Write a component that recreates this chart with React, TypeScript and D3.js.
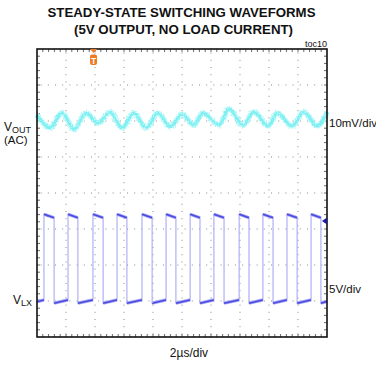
import * as d3 from "d3";

const titleLines = ["STEADY-STATE SWITCHING WAVEFORMS", "(5V OUTPUT, NO LOAD CURRENT)"];

// VOUT (AC coupled) ripple: time in divisions, value in mV
const rippleTime = [0, 0.45, 0.86, 1.28, 1.69, 2.1, 2.52, 2.93, 3.34, 3.76, 4.17, 4.59, 5.0, 5.41, 5.72, 6.28, 6.62, 7.1, 7.48, 7.97, 8.28, 8.79, 9.2, 9.66, 10];
const rippleMv = [1.4, -2.2, 1.9, -2.6, 1.9, -0.9, 2.2, -2.2, 1.9, -2.2, 1.9, -1.9, 1.6, -1.4, 1.9, -1.4, 3.0, -1.5, 2.2, -1.7, 1.9, -1.7, 2.2, -1.7, 2.2];

// VLX switching node: edge times in divisions, levels in volts
const riseTime = [0.24, 1.07, 1.93, 2.76, 3.62, 4.45, 5.28, 6.1, 6.97, 7.79, 8.62, 9.45];
const fallTime = [0.59, 1.41, 2.28, 3.1, 3.97, 4.79, 5.62, 6.45, 7.31, 8.14, 8.97, 9.79];
const highStartV = 12.2;
const highEndV = 11.7;
const lowStartV = -0.15;
const lowEndV = 0.3;

const voutOffsetDiv = 2.03;
const vlxOffsetDiv = -3.03;
const gndMarkerDiv = -0.78;
const triggerDiv = 1.95;

const W = 376;
const H = 365;
const font = "'Liberation Sans', Arial, sans-serif";

export default function App() {
  const x = d3.scaleLinear().domain([0, 10]).range([37, 327]);
  const y = d3.scaleLinear().domain([-4, 4]).range([337, 49]);

  const voutY = (mv: number) => y(voutOffsetDiv + mv / 10);
  const vlxY = (v: number) => y(vlxOffsetDiv + v / 5);

  const ripplePath =
    d3
      .line<number>()
      .x((_, i) => x(rippleTime[i]))
      .y((d) => voutY(d))
      .curve(d3.curveMonotoneX)(rippleMv) ?? "";

  // full switching waveform incl. edges
  const pts: [number, number][] = [[0, lowEndV]];
  riseTime.forEach((r, i) => {
    pts.push([r, lowEndV], [r, highStartV], [fallTime[i], highEndV], [fallTime[i], lowStartV]);
  });
  pts.push([10, 0.1]);
  const lx = d3
    .line<[number, number]>()
    .x((d) => x(d[0]))
    .y((d) => vlxY(d[1]));
  const vlxPath = lx(pts) ?? "";

  // flat (dense) parts of the switching waveform
  const flats: [number, number][][] = [[[0, 0.05], [riseTime[0], lowEndV]]];
  riseTime.forEach((r, i) => {
    const last = i + 1 >= riseTime.length;
    flats.push([[r, highStartV], [fallTime[i], highEndV]]);
    flats.push([[fallTime[i], lowStartV], [last ? 10 : riseTime[i + 1], last ? 0.1 : lowEndV]]);
  });

  const minorX = d3.range(1, 50).map((i) => x(i / 5));
  const minorY = d3.range(1, 40).map((i) => y(-4 + i / 5));
  const gridX = d3.range(1, 10).map((i) => x(i));
  const gridY = d3.range(-3, 4).map((i) => y(i));

  const tx = x(triggerDiv);
  const gy = y(gndMarkerDiv);

  return (
    <svg width={W} height={H} style={{ position: "absolute", left: 0, top: 0, background: "#fff" }}>
      <defs>
        <filter id="fuzz" x="-5%" y="-50%" width="110%" height="200%">
          <feTurbulence type="fractalNoise" baseFrequency="0.9 0.6" numOctaves={2} seed={3} result="n" />
          <feDisplacementMap in="SourceGraphic" in2="n" scale={4} xChannelSelector="R" yChannelSelector="G" />
        </filter>
        <filter id="fuzz2" x="-5%" y="-50%" width="110%" height="200%">
          <feTurbulence type="fractalNoise" baseFrequency="1.2 0.8" numOctaves={1} seed={7} result="n" />
          <feDisplacementMap in="SourceGraphic" in2="n" scale={1.8} xChannelSelector="R" yChannelSelector="G" />
        </filter>
      </defs>

      <g fontFamily={font} fontWeight="bold" fontSize={13.5} textAnchor="middle" fill="#111">
        <text x={181.5} y={17} textLength={268} lengthAdjust="spacingAndGlyphs">{titleLines[0]}</text>
        <text x={183.5} y={34} textLength={219} lengthAdjust="spacingAndGlyphs">{titleLines[1]}</text>
      </g>
      <text x={327} y={47} fontFamily={font} fontSize={9} textAnchor="end" fill="#111">toc10</text>

      {/* grid */}
      <g stroke="#8a8a8a" strokeWidth={1} strokeDasharray="1 6.2">
        {gridX.map((g) => (
          <line key={"gx" + g} x1={g} x2={g} y1={y(4) + 3.6} y2={y(-4)} />
        ))}
        {gridY.map((g) => (
          <line key={"gy" + g} x1={x(0) + 3.6} x2={x(10)} y1={g} y2={g} />
        ))}
      </g>

      {/* edge ticks */}
      <g stroke="#444" strokeWidth={0.8}>
        {minorX.map((mx) => (
          <g key={"mx" + mx}>
            <line x1={mx} x2={mx} y1={y(4)} y2={y(4) + 3} />
            <line x1={mx} x2={mx} y1={y(-4)} y2={y(-4) - 3} />
          </g>
        ))}
        {minorY.map((my) => (
          <g key={"my" + my}>
            <line x1={x(0)} x2={x(0) + 3} y1={my} y2={my} />
            <line x1={x(10)} x2={x(10) - 3} y1={my} y2={my} />
          </g>
        ))}
      </g>

      {/* VOUT ripple */}
      <g filter="url(#fuzz)">
        <path d={ripplePath} fill="none" stroke="#b8f8f8" strokeWidth={5.5} strokeLinejoin="round" />
        <path d={ripplePath} fill="none" stroke="#7eeff2" strokeWidth={2.5} strokeLinejoin="round" />
      </g>

      {/* VLX */}
      <path d={vlxPath} fill="none" stroke="#a9a9f5" strokeWidth={1.1} />
      <g fill="none" filter="url(#fuzz2)">
        {flats.map((f, i) => (
          <g key={"f" + i}>
            <path d={lx(f) ?? ""} stroke="#a6a6f4" strokeWidth={3.2} />
            <path d={lx(f) ?? ""} stroke="#4a4ae2" strokeWidth={1.6} />
          </g>
        ))}
      </g>

      {/* frame */}
      <rect x={x(0)} y={y(4)} width={x(10) - x(0)} height={y(-4) - y(4)} fill="none" stroke="#111" strokeWidth={1.6} />

      {/* trigger marker */}
      <path d={`M${tx - 3.5},${y(4)} L${tx + 3.5},${y(4)} L${tx},${y(4) + 4} Z`} fill="#f07a22" />
      <rect x={tx - 3.5} y={54.5} width={7} height={10.5} rx={2} fill="#f07a22" />
      <text x={tx} y={63.5} fontFamily={font} fontWeight="bold" fontSize={8.5} textAnchor="middle" fill="#fff">T</text>

      {/* channel marker */}
      <path d={`M${x(10) - 5},${gy} L${x(10)},${gy - 3.5} L${x(10)},${gy + 3.5} Z`} fill="#1a1aa0" />

      {/* labels */}
      <g fontFamily={font} fontSize={12} fill="#111">
        <text x={4} y={131}>
          V<tspan fontSize={9} dy={2}>OUT</tspan>
        </text>
        <text x={4} y={144} fontSize={11.5}>(AC)</text>
        <text x={13} y={304}>
          V<tspan fontSize={9} dy={2}>LX</tspan>
        </text>
        <text x={329} y={127} fontSize={11.5}>10mV/div</text>
        <text x={329} y={293} fontSize={11.5}>5V/div</text>
        <text x={189} y={357} fontSize={12} textAnchor="middle">2µs/div</text>
      </g>
    </svg>
  );
}
